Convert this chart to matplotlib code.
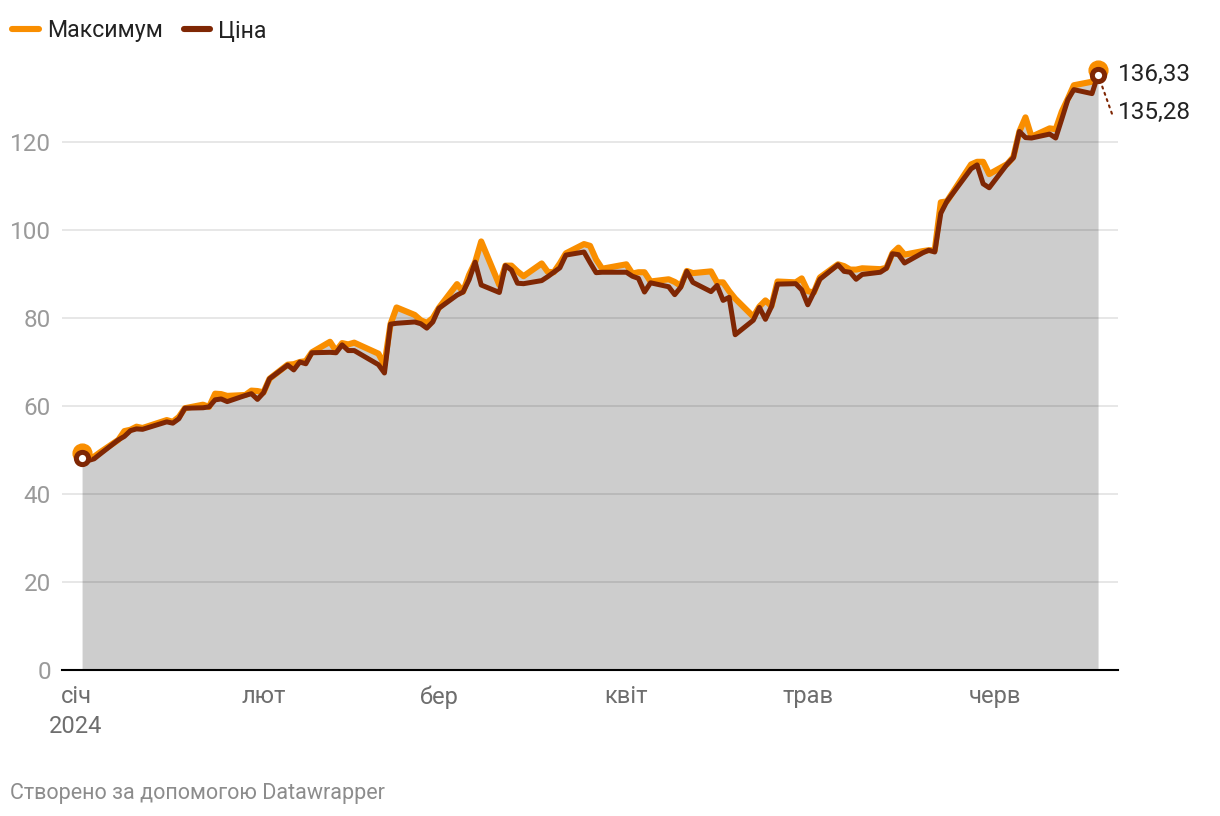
import matplotlib
matplotlib.use("Agg")
import matplotlib.pyplot as plt
import pandas as pd

plt.rcParams['font.family'] = ['Roboto', 'DejaVu Sans']

# trading days, Jan 2 - Jun 18 2024
days = (
    ["2024-01-%02d" % d for d in [2, 3, 4, 5, 8, 9, 10, 11, 12, 16, 17, 18, 19, 22, 23, 24, 25, 26, 29, 30, 31]]
    + ["2024-02-%02d" % d for d in [1, 2, 5, 6, 7, 8, 9, 12, 13, 14, 15, 16, 20, 21, 22, 23, 26, 27, 28, 29]]
    + ["2024-03-%02d" % d for d in [1, 4, 5, 6, 7, 8, 11, 12, 13, 14, 15, 18, 19, 20, 21, 22, 25, 26, 27, 28]]
    + ["2024-04-%02d" % d for d in [1, 2, 3, 4, 5, 8, 9, 10, 11, 12, 15, 16, 17, 18, 19, 22, 23, 24, 25, 26, 29, 30]]
    + ["2024-05-%02d" % d for d in [1, 2, 3, 6, 7, 8, 9, 10, 13, 14, 15, 16, 17, 20, 21, 22, 23, 24, 28, 29, 30, 31]]
    + ["2024-06-%02d" % d for d in [3, 4, 5, 6, 7, 10, 11, 12, 13, 14, 17, 18]]
)

high = [
    49.3, 48.2, 48.5, 49.5, 52.3, 54.3, 54.6, 55.3, 55.0, 56.8, 56.4, 57.5, 59.5, 60.3, 59.8, 62.8, 62.7, 62.3, 62.5, 63.5, 63.4,
    63.1, 66.2, 69.4, 69.5, 70.0, 70.2, 72.2, 74.6, 72.5, 74.3, 74.0, 74.4, 71.9, 69.4, 78.6, 82.4, 80.7, 79.5, 78.9, 80.0,
    82.3, 87.7, 86.0, 89.8, 92.7, 97.4, 87.5, 91.9, 91.9, 90.6, 89.5, 92.4, 90.5, 90.4, 92.4, 94.7, 96.8, 96.4, 93.3, 91.2,
    92.2, 90.1, 90.4, 90.4, 88.3, 88.8, 88.2, 87.3, 90.7, 90.2, 90.6, 88.1, 88.1, 86.1, 84.4, 80.3, 82.6, 84.0, 82.7, 88.3, 88.1, 89.0,
    86.1, 85.8, 89.2, 92.2, 91.8, 91.0, 91.0, 91.3, 91.1, 91.4, 94.7, 96.0, 94.4, 95.2, 95.4, 95.4, 106.3, 106.5, 114.9, 115.5, 115.5, 112.7,
    115.0, 116.6, 122.4, 125.6, 121.2, 123.1, 122.9, 126.9, 129.8, 132.9, 133.7, 136.33,
]

price = [
    48.2, 47.6, 48.0, 49.1, 52.3, 53.1, 54.4, 54.8, 54.7, 56.4, 56.1, 57.1, 59.5, 59.6, 59.8, 61.4, 61.6, 61.0, 62.4, 62.8, 61.5,
    63.0, 66.2, 69.3, 68.2, 70.0, 69.6, 72.1, 72.2, 72.1, 73.9, 72.6, 72.6, 69.4, 67.5, 78.6, 78.8, 79.1, 78.7, 77.7, 79.1,
    82.2, 85.2, 85.9, 88.7, 92.7, 87.5, 85.8, 91.9, 90.9, 87.9, 87.8, 88.5, 89.4, 90.4, 91.4, 94.3, 95.0, 92.6, 90.3, 90.4,
    90.4, 89.5, 89.0, 85.9, 88.0, 87.1, 85.3, 87.0, 90.6, 88.1, 86.0, 87.4, 84.0, 84.7, 76.2, 79.5, 82.4, 79.7, 82.6, 87.7, 87.8, 86.4,
    83.0, 85.8, 88.8, 92.1, 90.6, 90.4, 88.8, 89.9, 90.4, 91.3, 94.6, 94.4, 92.5, 94.8, 95.4, 95.0, 103.8, 106.5, 113.9, 114.8, 110.5, 109.6,
    115.0, 116.4, 122.4, 121.0, 120.9, 121.8, 120.9, 125.2, 129.6, 131.9, 131.0, 135.28,
]

month_labels = ["січ\n2024", "лют", "бер", "квіт", "трав", "черв"]
month_starts = ["2024-01-01", "2024-02-01", "2024-03-01", "2024-04-01", "2024-05-01", "2024-06-01"]
y_ticks = [0, 20, 40, 60, 80, 100, 120]

df = pd.DataFrame({"date": pd.to_datetime(days), "high": high, "price": price})

orange = "#f98e00"
brown = "#7f2704"

fig = plt.figure(figsize=(12.2, 8.16), dpi=100)
ax = fig.add_axes([62 / 1220, 1 - 670 / 816, (1118 - 62) / 1220, (670 - 54) / 816])

ax.fill_between(df["date"], df["high"], 0, color="#cdcdcd", lw=0, zorder=1)
ax.plot(df["date"], df["high"], color=orange, lw=4.4, zorder=3, label="Максимум")
ax.plot(df["date"], df["price"], color=brown, lw=3.6, zorder=4, label="Ціна")

# start / end markers
for i in [0, len(df) - 1]:
    ax.plot(df["date"].iloc[i], df["high"].iloc[i], "o", ms=13.5, color=orange, zorder=5, clip_on=False)
    ax.plot(df["date"].iloc[i], df["price"].iloc[i], "o", ms=8.8, mfc="white", mec=brown, mew=3.6,
            zorder=6, clip_on=False)

last = df.iloc[-1]
fmt = lambda v: ("%.2f" % v).replace(".", ",")
ax.annotate(fmt(last["high"]), xy=(last["date"], last["price"]), xytext=(14, 0.5),
            textcoords="offset points", va="center", ha="left", fontsize=17.5, color="#222222")
ax.annotate(fmt(last["price"]), xy=(last["date"], last["price"]), xytext=(14, -27),
            textcoords="offset points", va="center", ha="left", fontsize=17.5, color="#222222")
# dotted connector to the lower label
ax.annotate("", xy=(last["date"], last["price"]), xytext=(10, -28), textcoords="offset points",
            arrowprops=dict(arrowstyle="-", color=brown, lw=1.5, ls=(0, (1, 2.2)), shrinkA=0, shrinkB=7),
            zorder=2, annotation_clip=False)

# axes styling
x_left = pd.Timestamp("2024-01-01") - pd.Timedelta(days=2.32)
x_right = pd.Timestamp("2024-01-01") + pd.Timedelta(days=172.3)
ax.set_xlim(x_left, x_right)
ax.set_ylim(0, 140)
ax.set_xticks(pd.to_datetime(month_starts))
ax.set_xticklabels(month_labels)
ax.set_yticks(y_ticks)
ax.tick_params(axis="x", length=0, pad=11, labelsize=17, labelcolor="#6e6e6e")
ax.tick_params(axis="y", length=0, pad=8, labelsize=17.5, labelcolor="#9a9a9a")
for lab in ax.get_xticklabels():
    lab.set_linespacing(1.4)
for y in y_ticks[1:]:
    ax.axhline(y, color="black", alpha=0.1, lw=1.3, zorder=2)
for s in ["top", "right", "left"]:
    ax.spines[s].set_visible(False)
ax.spines["bottom"].set_color("black")
ax.spines["bottom"].set_linewidth(1.5)
ax.spines["bottom"].set_zorder(7)
ax.set_facecolor("none")

leg = ax.legend(loc="center left", bbox_to_anchor=(12 / 1220, 1 - 31 / 816), bbox_transform=fig.transFigure,
                ncol=2, frameon=False, fontsize=16.7, handlelength=1.15, handletextpad=0.35,
                columnspacing=0.9, borderpad=0, borderaxespad=0)
for h in leg.legend_handles:
    h.set_solid_capstyle("round")
    h.set_linewidth(4.4)
for t in leg.get_texts():
    t.set_color("#222222")

fig.text(10 / 1220, 1 - 793 / 816, "Створено за допомогою Datawrapper", fontsize=15.5, color="#8c8c8c",
         va="center", ha="left")

fig.savefig("out.png", dpi=100)
